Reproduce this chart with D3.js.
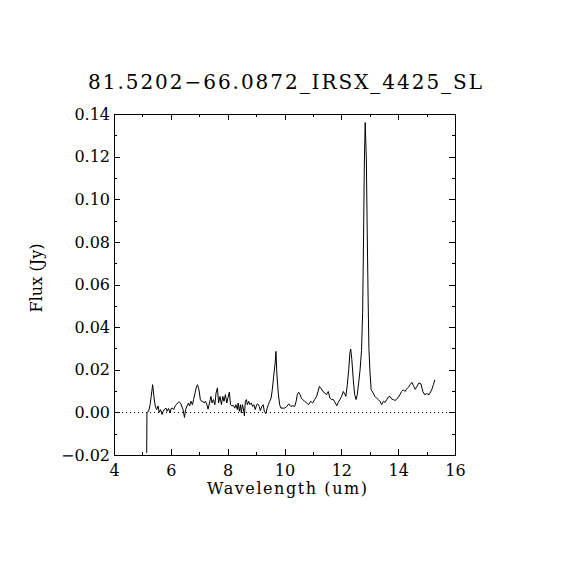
<!DOCTYPE html>
<html>
<head>
<meta charset="utf-8">
<script src="https://cdn.jsdelivr.net/npm/d3@7"></script>
<style>
  html, body { margin: 0; padding: 0; background: #fff; }
  svg { display: block; }
  text { font-family: "DejaVu Serif", "Liberation Serif", serif; fill: #000; }
</style>
</head>
<body>
<svg id="chart" width="570" height="570"></svg>
<script>
const titleText = "81.5202\u221266.0872_IRSX_4425_SL";
const xLabel = "Wavelength (um)";
const yLabel = "Flux (Jy)";
const xDomain = [4, 16];
const yDomain = [-0.02, 0.14];
const xMajorTicks = [4, 6, 8, 10, 12, 14, 16];
const xMinorTicks = [5, 7, 9, 11, 13, 15];
const yMajorTicks = [-0.02, 0.00, 0.02, 0.04, 0.06, 0.08, 0.10, 0.12, 0.14];
const yMinorTicks = [-0.01, 0.01, 0.03, 0.05, 0.07, 0.09, 0.11, 0.13];

const wavelength = [
  5.15, 5.16, 5.22, 5.27, 5.31, 5.36, 5.41, 5.45, 5.50, 5.55, 5.59, 5.64, 5.69, 5.73, 5.78, 5.83, 5.87, 5.92, 5.97,
  6.01, 6.06, 6.10, 6.15, 6.20, 6.24, 6.29, 6.34, 6.38, 6.43, 6.48, 6.52, 6.57, 6.62, 6.66, 6.71, 6.76, 6.80, 6.85,
  6.90, 6.94, 6.99, 7.04, 7.08, 7.13, 7.17, 7.22, 7.27, 7.31, 7.36, 7.41, 7.45, 7.50, 7.55, 7.59, 7.64, 7.68, 7.73,
  7.78, 7.83, 7.87, 7.92, 7.97, 8.01, 8.06, 8.10, 8.15, 8.20, 8.25, 8.29, 8.34, 8.37, 8.41, 8.45, 8.48, 8.52, 8.55,
  8.59, 8.62, 8.66, 8.69, 8.74, 8.78, 8.83, 8.88, 8.92, 8.97, 9.02, 9.06, 9.11, 9.15, 9.20, 9.25, 9.29, 9.34, 9.39,
  9.43, 9.48, 9.53, 9.57, 9.62, 9.67, 9.70, 9.73, 9.78, 9.83, 9.87, 9.94, 10.01, 10.08, 10.15, 10.22, 10.29, 10.36,
  10.41, 10.45, 10.50, 10.55, 10.59, 10.64, 10.71, 10.78, 10.85, 10.92, 10.99, 11.06, 11.13, 11.18, 11.23, 11.29,
  11.35, 11.42, 11.48, 11.54, 11.60, 11.66, 11.72, 11.78, 11.84, 11.89, 11.95, 12.01, 12.07, 12.13, 12.16, 12.21,
  12.26, 12.30, 12.33, 12.37, 12.42, 12.47, 12.52, 12.56, 12.61, 12.66, 12.71, 12.75, 12.78, 12.81, 12.84, 12.88,
  12.91, 12.94, 12.97, 13.01, 13.05, 13.12, 13.18, 13.24, 13.30, 13.36, 13.42, 13.48, 13.54, 13.60, 13.65, 13.71,
  13.77, 13.83, 13.89, 13.95, 14.01, 14.06, 14.12, 14.18, 14.24, 14.30, 14.36, 14.42, 14.48, 14.54, 14.60, 14.66,
  14.73, 14.80, 14.87, 14.93, 15.01, 15.09, 15.18, 15.24, 15.29
];
const flux = [
  -0.019, 0.000, 0.0005, 0.0036, 0.0075, 0.013, 0.0067, 0.003, 0.0013, 0.003, 0.000, 0.0013, -0.001, 0.0005, 0.0015, 0.002, 0.0005, 0.0018, -0.0003,
  0.0018, 0.002, 0.0013, 0.003, 0.0036, 0.0044, 0.005, 0.0044, 0.003, 0.0013, -0.0024, 0.0013, 0.003, 0.0044, 0.003, 0.0052, 0.0036, 0.006, 0.009,
  0.012, 0.013, 0.0106, 0.006, 0.0052, 0.0052, 0.0044, 0.0052, 0.0036, 0.0015, 0.0044, 0.0075, 0.0044, 0.006, 0.0036, 0.009, 0.0115, 0.0044, 0.0075,
  0.0036, 0.0075, 0.0052, 0.0083, 0.0044, 0.0068, 0.0095, 0.0036, 0.003, 0.0033, 0.002, 0.0036, 0.0013, 0.0044, 0.0005, 0.0036, -0.0003, 0.0036, 0.002,
  -0.0016, 0.0052, 0.006, 0.0036, 0.0052, 0.0036, 0.0044, 0.0028, 0.0036, 0.0013, 0.0036, 0.004, 0.0028, 0.0008, 0.0028, 0.0036, 0.0005, -0.0006, 0.002,
  0.0036, 0.0052, 0.0067, 0.0106, 0.017, 0.023, 0.0286, 0.0185, 0.0091, 0.0036, 0.002, 0.002, 0.002, 0.0028, 0.004, 0.0028, 0.0031, 0.0028,
  0.0052, 0.0083, 0.0094, 0.0083, 0.0067, 0.006, 0.0052, 0.0044, 0.0036, 0.0052, 0.0044, 0.006, 0.0075, 0.0098, 0.0122, 0.0112,
  0.0098, 0.0091, 0.0083, 0.0098, 0.0067, 0.006, 0.006, 0.0047, 0.0031, 0.0047, 0.006, 0.0075, 0.0098, 0.0083, 0.0075, 0.013,
  0.020, 0.0278, 0.0297, 0.0247, 0.0153, 0.0083, 0.006, 0.0083, 0.0138, 0.020, 0.029, 0.047, 0.080, 0.117, 0.136, 0.119,
  0.086, 0.056, 0.030, 0.0185, 0.0106, 0.0091, 0.0075, 0.0067, 0.006, 0.0052, 0.0036, 0.0052, 0.0047, 0.006, 0.0072, 0.0075,
  0.0063, 0.006, 0.0056, 0.0062, 0.0072, 0.0083, 0.0098, 0.0106, 0.0098, 0.011, 0.0118, 0.013, 0.0141, 0.0125, 0.0108, 0.0122,
  0.0138, 0.0134, 0.0098, 0.0083, 0.0088, 0.0083, 0.0106, 0.013, 0.0153
];

const svg = d3.select("#chart");
const pLeft = 114, pRight = 455, pTop = 114, pBottom = 455;

const x = d3.scaleLinear().domain(xDomain).range([pLeft, pRight]);
const y = d3.scaleLinear().domain(yDomain).range([pBottom, pTop]);

// Frame
svg.append("rect")
  .attr("x", pLeft).attr("y", pTop)
  .attr("width", pRight - pLeft).attr("height", pBottom - pTop)
  .attr("fill", "none").attr("stroke", "#000").attr("stroke-width", 1)
  .attr("shape-rendering", "crispEdges");

// Zero dotted line
svg.append("line")
  .attr("x1", x(xDomain[0])).attr("x2", x(xDomain[1]))
  .attr("y1", y(0)).attr("y2", y(0))
  .attr("stroke", "#000").attr("stroke-width", 1)
  .attr("stroke-dasharray", "1,3")
  .attr("shape-rendering", "crispEdges");

const fmtY = d3.format(".2f");
function styleAxis(g) {
  g.select(".domain").remove();
  g.selectAll(".tick line").attr("stroke", "#000").attr("shape-rendering", "crispEdges");
  g.selectAll("text").attr("font-size", 16).attr("font-family", "DejaVu Serif, serif").attr("fill", "#000");
}

// Bottom axis
svg.append("g").attr("transform", `translate(0,${pBottom})`)
  .call(d3.axisBottom(x).tickValues(xMajorTicks).tickSizeInner(-6).tickSizeOuter(0).tickPadding(10).tickFormat(d3.format("d")))
  .call(styleAxis);
svg.append("g").attr("transform", `translate(0,${pBottom})`)
  .call(d3.axisBottom(x).tickValues(xMinorTicks).tickSizeInner(-3).tickSizeOuter(0).tickFormat(""))
  .call(styleAxis);
// Top axis
svg.append("g").attr("transform", `translate(0,${pTop})`)
  .call(d3.axisTop(x).tickValues(xMajorTicks).tickSizeInner(-6).tickSizeOuter(0).tickFormat(""))
  .call(styleAxis);
svg.append("g").attr("transform", `translate(0,${pTop})`)
  .call(d3.axisTop(x).tickValues(xMinorTicks).tickSizeInner(-3).tickSizeOuter(0).tickFormat(""))
  .call(styleAxis);
// Left axis
svg.append("g").attr("transform", `translate(${pLeft},0)`)
  .call(d3.axisLeft(y).tickValues(yMajorTicks).tickSizeInner(-6).tickSizeOuter(0).tickPadding(4)
    .tickFormat(d => (Math.abs(d) < 1e-9 ? "0.00" : fmtY(d).replace("-", "\u2212"))))
  .call(styleAxis);
svg.append("g").attr("transform", `translate(${pLeft},0)`)
  .call(d3.axisLeft(y).tickValues(yMinorTicks).tickSizeInner(-3).tickSizeOuter(0).tickFormat(""))
  .call(styleAxis);
// Right axis
svg.append("g").attr("transform", `translate(${pRight},0)`)
  .call(d3.axisRight(y).tickValues(yMajorTicks).tickSizeInner(-6).tickSizeOuter(0).tickFormat(""))
  .call(styleAxis);
svg.append("g").attr("transform", `translate(${pRight},0)`)
  .call(d3.axisRight(y).tickValues(yMinorTicks).tickSizeInner(-3).tickSizeOuter(0).tickFormat(""))
  .call(styleAxis);

// Spectrum line
const pts = wavelength.map((w, i) => [w, flux[i]]);
svg.append("path")
  .datum(pts)
  .attr("fill", "none").attr("stroke", "#000").attr("stroke-width", 1)
  .attr("d", d3.line().x(d => x(d[0])).y(d => y(d[1])));

// Title
svg.append("text")
  .attr("x", 285).attr("y", 89)
  .attr("text-anchor", "middle")
  .attr("font-size", 20)
  .attr("textLength", 394)
  .text(titleText);

// X label
svg.append("text")
  .attr("x", 287).attr("y", 494)
  .attr("text-anchor", "middle")
  .attr("font-size", 16)
  .attr("textLength", 160)
  .text(xLabel);

// Y label
svg.append("text")
  .attr("transform", "translate(42,278) rotate(-90)")
  .attr("text-anchor", "middle")
  .attr("font-size", 16)
  .attr("textLength", 69)
  .text(yLabel);
</script>
</body>
</html>
